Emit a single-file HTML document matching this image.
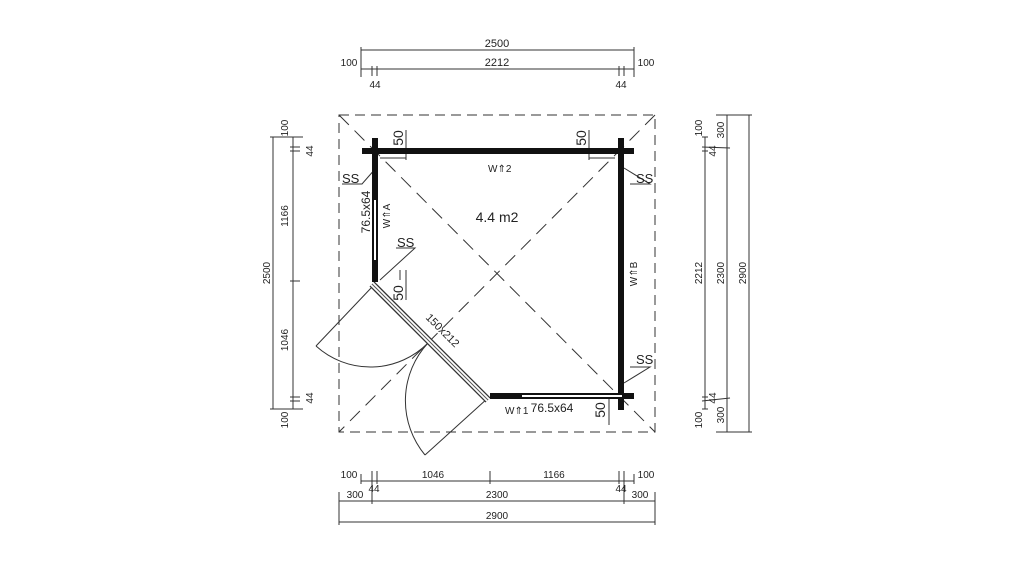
<!DOCTYPE html>
<html><head><meta charset="utf-8"><style>html,body{margin:0;padding:0;background:#fff}svg{display:block}text{font-family:"Liberation Sans",sans-serif;fill:#222}</style></head><body>
<svg width="1024" height="576" viewBox="0 0 1024 576" xmlns="http://www.w3.org/2000/svg">
<g stroke="#333" stroke-width="1" fill="none">
<!-- top dims -->
<line x1="361" y1="50" x2="634" y2="50"/>
<line x1="361" y1="69" x2="634" y2="69"/>
<line x1="361" y1="47" x2="361" y2="77"/><line x1="634" y1="47" x2="634" y2="77"/>
<line x1="372" y1="66" x2="372" y2="76"/><line x1="377" y1="66" x2="377" y2="76"/>
<line x1="619" y1="66" x2="619" y2="76"/><line x1="624" y1="66" x2="624" y2="76"/>
<!-- left dims -->
<line x1="273" y1="137" x2="273" y2="409"/>
<line x1="293" y1="137" x2="293" y2="409"/>
<line x1="270" y1="137" x2="303" y2="137"/><line x1="270" y1="409" x2="303" y2="409"/>
<line x1="290" y1="147" x2="300" y2="147"/><line x1="290" y1="151" x2="300" y2="151"/>
<line x1="290" y1="281" x2="300" y2="281"/>
<line x1="290" y1="397" x2="300" y2="397"/><line x1="290" y1="401" x2="300" y2="401"/>
<!-- right dims -->
<line x1="705" y1="137" x2="705" y2="409"/>
<line x1="727" y1="115" x2="727" y2="432"/>
<line x1="749" y1="115" x2="749" y2="432"/>
<line x1="716" y1="115" x2="752" y2="115"/><line x1="716" y1="432" x2="752" y2="432"/>
<line x1="702" y1="137" x2="708" y2="137"/><line x1="702" y1="409" x2="708" y2="409"/>
<line x1="702" y1="147" x2="730" y2="148"/><line x1="702" y1="151" x2="708" y2="151"/>
<line x1="702" y1="397" x2="708" y2="397"/><line x1="702" y1="401" x2="730" y2="398"/>
<!-- bottom dims -->
<line x1="361" y1="481" x2="634" y2="481"/>
<line x1="339" y1="501" x2="655" y2="501"/>
<line x1="339" y1="522" x2="655" y2="522"/>
<line x1="361" y1="474" x2="361" y2="484"/><line x1="634" y1="474" x2="634" y2="484"/>
<line x1="372" y1="471" x2="372" y2="504"/><line x1="377" y1="471" x2="377" y2="484"/>
<line x1="490" y1="471" x2="490" y2="484"/>
<line x1="619" y1="471" x2="619" y2="484"/><line x1="624" y1="471" x2="624" y2="504"/>
<line x1="339" y1="492" x2="339" y2="525"/><line x1="655" y1="492" x2="655" y2="525"/>
<!-- roof dashed -->
<rect x="339" y="115" width="316" height="317" stroke-dasharray="10,6"/>
<line x1="339" y1="115" x2="655" y2="432" stroke-dasharray="14,8"/>
<line x1="655" y1="115" x2="339" y2="432" stroke-dasharray="14,8"/>
<!-- 50 dims -->
<line x1="406" y1="130" x2="406" y2="160"/><line x1="380" y1="158" x2="406" y2="158"/>
<line x1="589" y1="130" x2="589" y2="160"/><line x1="589" y1="158" x2="615" y2="158"/>
<line x1="406" y1="270" x2="406" y2="300"/><line x1="400" y1="270" x2="400" y2="280"/>
<line x1="609" y1="393" x2="609" y2="425"/>
<!-- SS leaders -->
<polyline points="342,184 362,184 376,168"/>
<polyline points="630,184 650,184 624,168"/>
<polyline points="396,248 415,248 380,280"/>
<polyline points="630,367 650,367 624,383"/>
<!-- door leaves -->
<line x1="372" y1="287" x2="316" y2="346"/>
<path d="M316,346 A81,81 0 0 0 428,343"/>
<line x1="488" y1="398" x2="425" y2="455"/>
<path d="M425,455 A85,85 0 0 1 428,343"/>
<!-- door frame -->
<line x1="372" y1="284" x2="488" y2="400" stroke-width="7" stroke="#333"/>
<line x1="372" y1="284" x2="488" y2="400" stroke-width="4.5" stroke="#fff"/>
<line x1="372" y1="284" x2="488" y2="400" stroke-width="1" stroke="#555"/>
</g>
<!-- walls -->
<g fill="#111">
<rect x="362" y="148" width="272" height="6"/>
<rect x="372" y="138" width="6" height="144"/>
<rect x="618" y="138" width="6" height="272"/>
<rect x="490" y="393" width="144" height="6"/>
</g>
<rect x="374" y="200" width="2" height="60" fill="#fff"/>
<rect x="522" y="395" width="100" height="2" fill="#fff"/>
<g font-size="11">
<text x="497" y="47" text-anchor="middle">2500</text>
<text x="497" y="66" text-anchor="middle">2212</text>
<text x="349" y="66" text-anchor="middle" font-size="10">100</text>
<text x="646" y="66" text-anchor="middle" font-size="10">100</text>
<text x="375" y="88" text-anchor="middle" font-size="10">44</text>
<text x="621" y="88" text-anchor="middle" font-size="10">44</text>
<text x="349" y="478" text-anchor="middle" font-size="10">100</text>
<text x="646" y="478" text-anchor="middle" font-size="10">100</text>
<text x="433" y="478" text-anchor="middle" font-size="10">1046</text>
<text x="554" y="478" text-anchor="middle" font-size="10">1166</text>
<text x="374" y="492" text-anchor="middle" font-size="10">44</text>
<text x="621" y="492" text-anchor="middle" font-size="10">44</text>
<text x="355" y="498" text-anchor="middle" font-size="10">300</text>
<text x="640" y="498" text-anchor="middle" font-size="10">300</text>
<text x="497" y="498" text-anchor="middle" font-size="10">2300</text>
<text x="497" y="519" text-anchor="middle" font-size="10">2900</text>
<text x="497" y="222" text-anchor="middle" font-size="14">4.4 m2</text>
<text x="552" y="412" text-anchor="middle" font-size="12">76.5x64</text>
<text x="488" y="172" font-size="10">W⇑2</text>
<text x="505" y="414" font-size="10">W⇑1</text>
<text x="342" y="183" font-size="13">SS</text>
<text x="636" y="183" font-size="13">SS</text>
<text x="397" y="247" font-size="13">SS</text>
<text x="636" y="364" font-size="13">SS</text>
</g>
<g font-size="10">
<text transform="translate(288,128) rotate(-90)" text-anchor="middle">100</text>
<text transform="translate(288,420) rotate(-90)" text-anchor="middle">100</text>
<text transform="translate(288,216) rotate(-90)" text-anchor="middle">1166</text>
<text transform="translate(288,340) rotate(-90)" text-anchor="middle">1046</text>
<text transform="translate(270,273) rotate(-90)" text-anchor="middle">2500</text>
<text transform="translate(313,151) rotate(-90)" text-anchor="middle">44</text>
<text transform="translate(313,398) rotate(-90)" text-anchor="middle">44</text>
<text transform="translate(702,128) rotate(-90)" text-anchor="middle">100</text>
<text transform="translate(702,420) rotate(-90)" text-anchor="middle">100</text>
<text transform="translate(702,273) rotate(-90)" text-anchor="middle">2212</text>
<text transform="translate(724,273) rotate(-90)" text-anchor="middle">2300</text>
<text transform="translate(746,273) rotate(-90)" text-anchor="middle">2900</text>
<text transform="translate(724,130) rotate(-90)" text-anchor="middle">300</text>
<text transform="translate(724,415) rotate(-90)" text-anchor="middle">300</text>
<text transform="translate(716,151) rotate(-90)" text-anchor="middle">44</text>
<text transform="translate(716,398) rotate(-90)" text-anchor="middle">44</text>
</g>
<g font-size="14">
<text transform="translate(403,138) rotate(-90)" text-anchor="middle">50</text>
<text transform="translate(586,138) rotate(-90)" text-anchor="middle">50</text>
<text transform="translate(403,293) rotate(-90)" text-anchor="middle">50</text>
<text transform="translate(605,410) rotate(-90)" text-anchor="middle">50</text>
<text transform="translate(370,212) rotate(-90)" text-anchor="middle" font-size="12">76.5x64</text>
<text transform="translate(390,216) rotate(-90)" text-anchor="middle" font-size="10">W⇑A</text>
<text transform="translate(637,274) rotate(-90)" text-anchor="middle" font-size="10">W⇑B</text>
<text transform="translate(440,333) rotate(45)" text-anchor="middle" font-size="11">150x212</text>
</g>
</svg>
</body></html>
